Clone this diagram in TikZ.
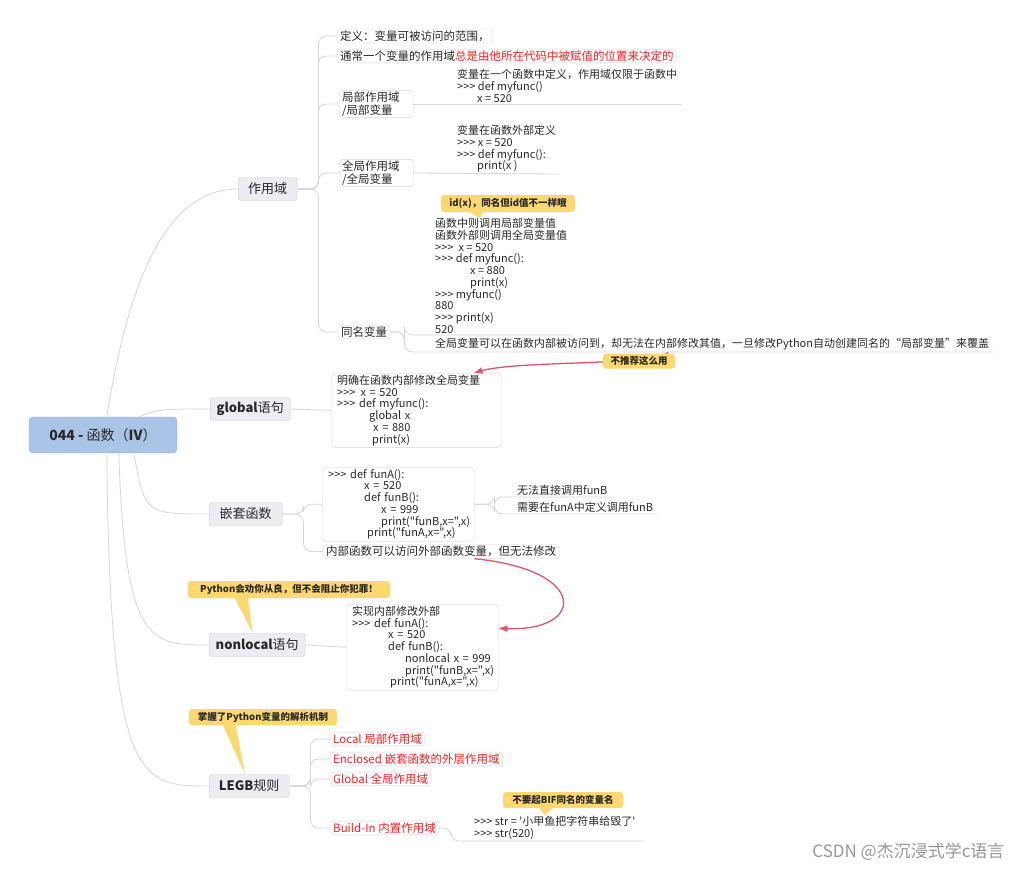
\documentclass[tikz,border=0pt]{standalone}
\usepackage{fontspec}
\setmainfont{Noto Sans CJK SC}[Ligatures=TeXOff]
\usepackage{tikz}
\usetikzlibrary{arrows.meta}
\definecolor{linkgrey}{RGB}{214,214,214}
\definecolor{topicfill}{RGB}{236,236,243}
\definecolor{topicline}{RGB}{200,200,212}
\definecolor{subline}{RGB}{214,214,220}
\definecolor{rootfill}{RGB}{170,196,232}
\definecolor{rootline}{RGB}{150,176,214}
\definecolor{notefill}{RGB}{252,216,110}
\definecolor{hintred}{RGB}{224,86,104}
\definecolor{hotred}{RGB}{255,30,30}
\definecolor{inkgrey}{RGB}{40,40,40}
\definecolor{wmgrey}{RGB}{150,150,150}
\newcommand\ind[1]{\hspace*{#1pt}}
\newcommand\leaffont{\fontsize{11}{11.7}\selectfont}
\tikzset{link/.style = {draw=linkgrey, line width=0.8pt}}
\tikzset{hint/.style = {draw=hintred, line width=1.3pt, -{Latex[length=9pt, width=7pt]}}}
\tikzset{root/.style = {draw=rootline, fill=rootfill, rounded corners=4pt, minimum width=148pt,
                        minimum height=36pt, text=inkgrey, font=\fontsize{14}{16}\selectfont}}
\tikzset{topic/.style = {draw=topicline, fill=topicfill, rounded corners=3pt, minimum height=23pt,
                         text=inkgrey, font=\fontsize{13}{15}\selectfont}}
\tikzset{sub/.style = {draw=subline, fill=white, rounded corners=3pt, inner xsep=3pt, inner ysep=1.5pt,
                       text=inkgrey, font=\fontsize{11.5}{12.5}\selectfont}}
\tikzset{leaf/.style = {align=left, inner xsep=4pt, inner ysep=1.5pt, text=inkgrey, font=\leaffont}}
\tikzset{codebox/.style = {draw=subline, fill=white, rounded corners=4pt, align=left, text width=140pt,
                           inner xsep=6pt, inner ysep=2pt, text=inkgrey, font=\leaffont}}
\tikzset{note/.style = {fill=notefill, rounded corners=3pt, inner sep=1pt, text=inkgrey,
                        font=\fontsize{9.5}{11}\selectfont\bfseries}}

\begin{document}
\begin{tikzpicture}[x=1pt, y=-1pt]
  \useasboundingbox [fill=white] (0, 0) rectangle (1024, 870);

  % root and main topics
  \node [root] (fn) at (103, 435) {\textbf{044 -} 函数（\textbf{IV}）};
  \node [topic, minimum width=59pt, anchor=west] (zyy) at (238, 189) {作用域};
  \node [topic, minimum width=80pt, anchor=west] (glb) at (210, 409) {\textbf{global}语句};
  \node [topic, minimum width=73pt, anchor=west] (qt) at (209, 514) {嵌套函数};
  \node [topic, minimum width=96pt, anchor=west] (nl) at (209, 645) {\textbf{nonlocal}语句};
  \node [topic, minimum width=80pt, anchor=west] (legb) at (209, 786) {\textbf{LEGB}规则};

  \draw [link] ([xshift=78pt]fn.north west) .. controls (130, 270) and (170, 189) .. (zyy.west);
  \draw [link] ([xshift=110pt]fn.north west) .. controls (160, 409) .. (glb.west);
  \draw [link] ([xshift=105pt]fn.south west) .. controls (145, 514) .. (qt.west);
  \draw [link] ([xshift=90pt]fn.south west) .. controls (125, 645) and (150, 645) .. (nl.west);
  \draw [link] ([xshift=78pt]fn.south west) .. controls (110, 786) and (140, 786) .. (legb.west);

  % 作用域
  \node [sub, anchor=west] (d1) at (337, 36) {定义：变量可被访问的范围，};
  \node [sub, anchor=west] (d2) at (337, 56) {通常一个变量的作用域\textcolor{hotred}{总是由他所在代码中被赋值的位置来决定的}};
  \node [sub, anchor=west, align=left, text width=68pt] (jb) at (339, 104) {局部作用域\\/局部变量};
  \node [sub, anchor=west, align=left, text width=68pt] (qj) at (339, 173) {全局作用域\\/全局变量};
  \node [sub, anchor=west] (tm) at (338, 332) {同名变量};
  \foreach \c in {d1, d2, jb, qj, tm}
    \draw [link, rounded corners=8pt] (zyy.east) -- ++(21, 0) |- (\c.west);

  \node [leaf, anchor=south west] (jbt) at (453, 104)
    {变量在一个函数中定义，作用域仅限于函数中\\>>> def myfunc()\\\ind{20}x = 520};
  \draw [link] (jb.east) -- (jbt.south east);
  \node [leaf, anchor=south west] (qjt) at (453, 174)
    {变量在函数外部定义\\>>> x = 520\\>>> def myfunc():\\\ind{20}print(x )};
  \draw [link] (qj.east) -- (qjt.south east);

  \node [leaf, anchor=south west] (tmt) at (431, 335)
    {函数中则调用局部变量值\\函数外部则调用全局变量值\\>>>\ind{5}x = 520\\>>> def myfunc():\\\ind{35}x = 880\\
     \ind{35}print(x)\\>>> myfunc()\\880\\>>> print(x)\\520};
  \node [leaf, anchor=south west] (tm2) at (431, 352)
    {全局变量可以在函数内部被访问到，却无法在内部修改其值，一旦修改Python自动创建同名的“局部变量”来覆盖};
  \draw [link, rounded corners=8pt] (tm.east) -- ++(14, 0) |- (tmt.south west) -- (tmt.south east);
  \draw [link, rounded corners=8pt] (tm.east) -- ++(14, 0) |- (tm2.south west) -- (tm2.south east);

  \node [note, minimum width=134pt, minimum height=17pt] (idn) at (508, 203.5) {id(x)，同名但id值不一样哦};
  \fill [notefill] ([xshift=29pt]idn.south west) -- ([xshift=42pt]idn.south west)
    -- ([xshift=39pt, yshift=-6pt]idn.south west) -- cycle;

  % global
  \node [codebox, anchor=north west, text width=158pt, minimum height=73pt] (gb) at (331, 373)
    {明确在函数内部修改全局变量\\>>>\ind{5}x = 520\\>>> def myfunc():\\\ind{32}global x\\\ind{36}x = 880\\\ind{35}print(x)};
  \draw [link] (glb.east) -- (gb.west);
  \draw [hint] ([xshift=237pt]tm2.south west) .. controls (660, 366) and (520, 360) .. ([xshift=-28pt]gb.north east);
  \node [note, minimum width=72pt, minimum height=15pt] (nt) at (639, 361) {不推荐这么用};

  % 嵌套函数
  \node [codebox, anchor=north west, minimum height=74pt] (qb) at (322, 467)
    {>>> def funA():\\\ind{36}x = 520\\\ind{36}def funB():\\\ind{53}x = 999\\\ind{53}print("funB,x=",x)\\
     \ind{39}print("funA,x=",x)};
  \node [sub, anchor=west] (nb) at (323, 551.5) {内部函数可以访问外部函数变量，但无法修改};
  \foreach \c in {qb, nb}
    \draw [link, rounded corners=8pt] (qt.east) -- ++(21, 0) |- (\c.west);
  \node [leaf, anchor=south west] (sa) at (513, 497) {无法直接调用funB};
  \node [leaf, anchor=south west] (sb) at (513, 514) {需要在funA中定义调用funB};
  \foreach \c in {sa, sb}
    \draw [link, rounded corners=8pt] (qb.east) -- ++(20, 0) |- (\c.south west) -- (\c.south east);

  % nonlocal
  \node [codebox, anchor=north west, minimum height=84pt] (nlb) at (346, 604)
    {实现内部修改外部\\>>> def funA():\\\ind{36}x = 520\\\ind{36}def funB():\\\ind{53}nonlocal x = 999\\
     \ind{53}print("funB,x=",x)\\\ind{38}print("funA,x=",x)};
  \draw [link] (nl.east) -- (nlb.west);
  \draw [hint] ([xshift=-85pt]nb.south east) .. controls (590, 570) and (585, 632) .. ([yshift=19pt]nlb.east);
  \node [note, minimum width=202pt, minimum height=17pt] (py) at (289, 589.5) {Python会劝你从良，但不会阻止你犯罪！};
  \fill [notefill] ([xshift=47pt]py.south west) -- ([xshift=60pt]py.south west)
    -- ([xshift=65pt, yshift=-35pt]py.south west) -- cycle;

  % LEGB
  \node [note, minimum width=148pt, minimum height=16pt] (jx) at (263, 717) {掌握了Python变量的解析机制};
  \fill [notefill] ([xshift=34pt]jx.south west) -- ([xshift=47pt]jx.south west)
    -- ([xshift=56pt, yshift=-48pt]jx.south west) -- cycle;
  \node [sub, text=hotred, anchor=west] (l1) at (330, 739) {Local 局部作用域};
  \node [sub, text=hotred, anchor=west] (l2) at (330, 759) {Enclosed 嵌套函数的外层作用域};
  \node [sub, text=hotred, anchor=west] (l3) at (330, 779) {Global 全局作用域};
  \node [sub, text=hotred, anchor=west] (l4) at (330, 828) {Build-In 内置作用域};
  \foreach \c in {l1, l2, l3, l4}
    \draw [link, rounded corners=8pt] (legb.east) -- ++(21, 0) |- (\c.west);
  \node [leaf, anchor=south west, inner xsep=8pt] (bs) at (466, 841)
    {>>> str = '小甲鱼把字符串给毁了'\\>>> str(520)};
  \draw [link, rounded corners=8pt] (l4.east) -- ++(12, 0) |- (bs.south west) -- (bs.south east);
  \node [note, minimum width=120pt, minimum height=16pt] (bif) at (563, 800) {不要起BIF同名的变量名};
  \fill [notefill] ([xshift=37pt]bif.south west) -- ([xshift=50pt]bif.south west)
    -- ([xshift=42pt, yshift=-7pt]bif.south west) -- cycle;

  \node [text=wmgrey, font=\fontsize{17}{19}\selectfont, anchor=east] (wm) at (1008, 852) {CSDN @杰沉浸式学c语言};
\end{tikzpicture}
\end{document}
